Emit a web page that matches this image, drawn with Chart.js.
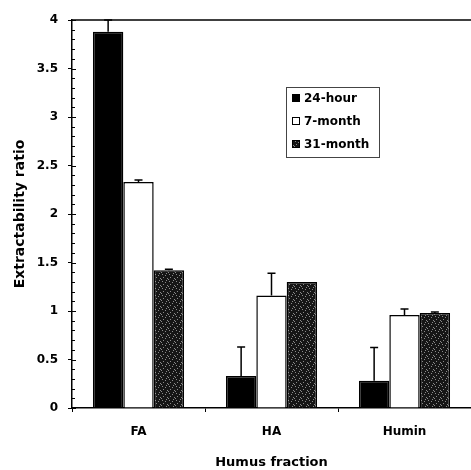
<!DOCTYPE html>
<html>
<head>
<meta charset="utf-8">
<script src="https://cdn.jsdelivr.net/npm/chart.js@4.4.0/dist/chart.umd.min.js"></script>
<style>
  html, body { margin: 0; padding: 0; background: #fff; }
  #wrap { width: 471px; height: 470px; }
</style>
</head>
<body>
<div id="wrap"><canvas id="myChart" width="471" height="470"></canvas></div>
<script>
// data
const fractions = ['FA', 'HA', 'Humin'];
const seriesNames = ['24-hour', '7-month', '31-month'];
const hour24 = [3.88, 0.33, 0.28];
const month7 = [2.33, 1.16, 0.96];
const month31 = [1.42, 1.30, 0.98];
const hour24Err = [0.12, 0.30, 0.345];
const month7Err = [0.02, 0.23, 0.06];
const month31Err = [0.01, 0.0, 0.01];

// speckled dark fill for the 31-month bars
function speckle() {
    const c = document.createElement('canvas');
    c.width = 7; c.height = 7;
    const g = c.getContext('2d');
    g.fillStyle = '#161616';
    g.fillRect(0, 0, 7, 7);
    g.fillStyle = '#8a8a8a';
    [[1,1],[4,2],[2,4],[6,5],[5,0],[0,6]].forEach(p => g.fillRect(p[0], p[1], 1, 1));
    return g.createPattern(c, 'repeat');
}

const fontBold = (size) => ({ family: '"DejaVu Sans", Arial, sans-serif', size: size, weight: 'bold' });

const errorBars = {
    id: 'errorBars',
    afterDatasetsDraw(chart) {
        const ctx = chart.ctx;
        const y = chart.scales.y;
        ctx.save();
        ctx.strokeStyle = '#000';
        ctx.lineWidth = 1.5;
        chart.data.datasets.forEach((ds, i) => {
            const meta = chart.getDatasetMeta(i);
            meta.data.forEach((bar, j) => {
                const e = ds.errors[j];
                if (!e) return;
                const y1 = y.getPixelForValue(ds.data[j]);
                const y2 = Math.max(y.getPixelForValue(ds.data[j] + e), chart.chartArea.top);
                ctx.beginPath();
                ctx.moveTo(bar.x, y1);
                ctx.lineTo(bar.x, y2);
                ctx.moveTo(bar.x - 4, y2);
                ctx.lineTo(bar.x + 4, y2);
                ctx.stroke();
            });
        });
        ctx.restore();
    }
};

const frame = {
    id: 'frame',
    afterDraw(chart) {
        const ctx = chart.ctx;
        const a = chart.chartArea;
        const y = chart.scales.y;
        ctx.save();
        ctx.strokeStyle = '#000';
        ctx.lineWidth = 1.5;
        ctx.beginPath();
        ctx.moveTo(a.left, a.top);
        ctx.lineTo(a.right, a.top);
        ctx.stroke();
        // minor ticks every 0.1, major ticks poke inside a little
        ctx.lineWidth = 1;
        for (let k = 0; k <= 40; k++) {
            const py = Math.round(y.getPixelForValue(k / 10)) + 0.5;
            ctx.beginPath();
            ctx.moveTo(a.left, py);
            ctx.lineTo(a.left + (k % 5 === 0 ? 4 : 3), py);
            ctx.stroke();
        }
        // legend
        ctx.strokeStyle = '#444';
        ctx.strokeRect(286.5, 87.5, 93, 70);
        ctx.font = 'bold 12px "DejaVu Sans", Arial, sans-serif';
        ctx.textBaseline = 'middle';
        const rows = [98, 121, 144];
        chart.data.datasets.forEach((ds, i) => {
            ctx.fillStyle = ds.backgroundColor;
            ctx.fillRect(292, rows[i] - 4, 8, 8);
            ctx.strokeStyle = '#000';
            ctx.strokeRect(292.5, rows[i] - 3.5, 7, 7);
            ctx.fillStyle = '#000';
            ctx.fillText(ds.label, 304, rows[i] + 1);
        });
        ctx.restore();
    }
};

const ctx = document.getElementById('myChart').getContext('2d');
const data = {
    labels: fractions,
    datasets: [
        { label: seriesNames[0], data: hour24, errors: hour24Err, backgroundColor: '#000' },
        { label: seriesNames[1], data: month7, errors: month7Err, backgroundColor: '#fff' },
        { label: seriesNames[2], data: month31, errors: month31Err, backgroundColor: speckle() }
    ].map(d => Object.assign(d, {
        borderColor: '#000',
        borderWidth: 1.5,
        barPercentage: 1,
        categoryPercentage: 0.685
    }))
};

const config = {
    type: 'bar',
    data: data,
    options: {
        responsive: false,
        animation: false,
        layout: { padding: { top: 20, right: 0, left: 0, bottom: 0 } },
        plugins: {
            legend: { display: false },
            tooltip: { enabled: false }
        },
        scales: {
            x: {
                afterFit: s => { s.height = 62; },
                grid: { offset: true, drawOnChartArea: false, tickLength: 4, color: '#000' },
                border: { color: '#000', width: 1.5 },
                ticks: { color: '#000', font: fontBold(12), padding: 13 },
                title: {
                    display: true,
                    text: 'Humus fraction',
                    color: '#000',
                    font: fontBold(13),
                    padding: { top: 0, bottom: 0 }
                }
            },
            y: {
                min: 0,
                max: 4,
                afterFit: s => { s.width = 72; },
                grid: { drawOnChartArea: false, tickLength: 4, color: '#000' },
                border: { color: '#000', width: 1.5 },
                ticks: {
                    stepSize: 0.5,
                    color: '#000',
                    font: fontBold(12),
                    padding: 10,
                    callback: v => String(+v.toFixed(1))
                },
                title: {
                    display: true,
                    text: 'Extractability ratio',
                    color: '#000',
                    font: fontBold(14),
                    padding: { top: 12, bottom: 0 }
                }
            }
        }
    },
    plugins: [errorBars, frame]
};
const myChart = new Chart(ctx, config);
</script>
</body>
</html>
